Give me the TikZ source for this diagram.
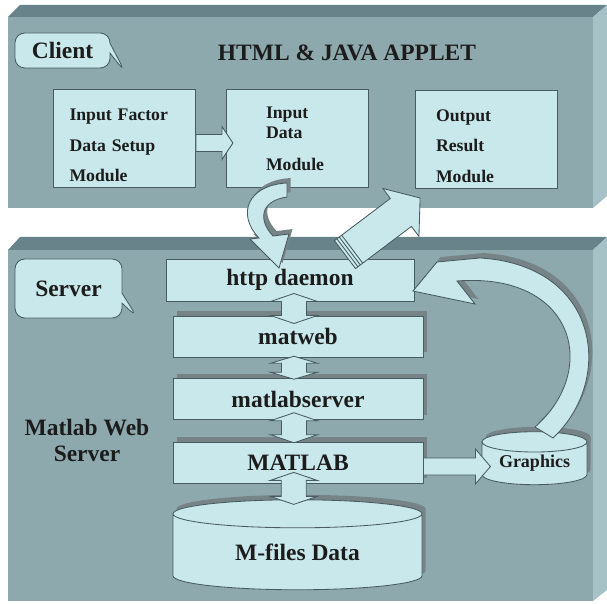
\documentclass[tikz,border=0pt]{standalone}
\usepackage{fontspec}
\setmainfont{Liberation Serif}
\usetikzlibrary{shapes.geometric, shapes.callouts, shadows, positioning, calc}

\definecolor{panelfront}{RGB}{141,169,174}
\definecolor{paneltop}{RGB}{104,132,138}
\definecolor{panelside}{RGB}{166,194,198}
\definecolor{boxfill}{RGB}{201,232,236}
\definecolor{boxline}{RGB}{72,92,96}
\definecolor{shade}{RGB}{118,132,136}
\definecolor{inkdark}{RGB}{28,28,28}

\newcommand{\pxu}{0.025cm}
\newcommand{\bigfont}{\bfseries\fontsize{16.7}{18.5}\selectfont}
\newcommand{\modfont}{\bfseries\fontsize{12.6}{21.7}\selectfont}
\newcommand{\lowerby}{\rule{0pt}{18.5pt}}

% block arrow: start, angle, length, shaft half, head half, head length
\newcommand{\onearrow}[6]{%
  \begin{scope}[shift={#1}, rotate=#2]
    \path[blockarrow] (0,-#4) -- ({#3-#6},-#4) -- ({#3-#6},-#5) -- (#3,0) -- ({#3-#6},#5) -- ({#3-#6},#4) -- (0,#4) -- cycle;
  \end{scope}}
% upright double block arrow: centre, length, shaft half, head half, head length
\newcommand{\twoarrow}[5]{%
  \begin{scope}[shift={#1}]
    \path[blockarrow] (-#3,{-#2/2+#5}) -- (-#4,{-#2/2+#5}) -- (0,{-#2/2}) -- (#4,{-#2/2+#5}) -- (#3,{-#2/2+#5})
      -- (#3,{#2/2-#5}) -- (#4,{#2/2-#5}) -- (0,{#2/2}) -- (-#4,{#2/2-#5}) -- (-#3,{#2/2-#5}) -- cycle;
  \end{scope}}

\tikzset{
  modbox/.style={draw=boxline, fill=boxfill, line width=0.6pt, minimum width=142*\pxu, minimum height=98*\pxu, inner sep=0pt, align=left, font=\modfont, text=inkdark},
  layerbox/.style={draw=boxline, fill=boxfill, line width=0.6pt, minimum width=250*\pxu, minimum height=41*\pxu, inner sep=0pt, font=\bigfont, text=inkdark},
  boxshadow/.style={drop shadow={shadow xshift=2.5pt, shadow yshift=3.5pt, fill=shade, opacity=1}},
  tag/.style={rectangle callout, rounded corners=7pt, draw=boxline, fill=boxfill, line width=0.6pt, font=\bigfont, text=inkdark, inner sep=0pt},
  blockarrow/.style={draw=boxline, fill=boxfill, line width=0.6pt},
  store/.style={cylinder, shape border rotate=90, draw=boxline, fill=boxfill, line width=0.6pt, text=inkdark, inner sep=0pt}
}

\begin{document}
\begin{tikzpicture}[x=\pxu, y=-\pxu]
  \useasboundingbox (0,0) rectangle (607,604);
  \fill[white] (0,0) rectangle (607,604);

  % client panel
  \fill[paneltop] (8,17) -- (20,5) -- (607,5) -- (593,17) -- cycle;
  \fill[panelside] (593,17) -- (607,5) -- (607,196) -- (593,208) -- cycle;
  \fill[panelfront] (8,17) rectangle (593,208);

  % server panel
  \fill[paneltop] (8,250) -- (20,237) -- (607,237) -- (593,250) -- cycle;
  \fill[panelside] (593,250) -- (607,237) -- (607,590) -- (593,601) -- cycle;
  \fill[panelfront] (8,250) rectangle (593,601);

  % client side
  \node[tag, minimum width=95*\pxu, minimum height=35*\pxu, callout absolute pointer={(125,72)}] (client) at (62.5,50.5) {Client};
  \node[font=\bigfont, text=inkdark] (applet) at (347,53) {HTML \& JAVA APPLET};

  \node[modbox, text width=110*\pxu] (factor) at (124.5,138.5) {\lowerby Input Factor\\Data Setup\\Module};
  \node[modbox, text width=62*\pxu] (input) at (297,138.5) {Input\\[-7.5pt]Data\\[1.1pt]Module};
  \node[modbox, text width=100*\pxu] (output) at (486,139) {\lowerby Output\\Result\\Module};

  \onearrow{($(factor.east)+(0,4.5)$)}{0}{37}{8.5}{16.5}{11}

  % server side
  \node[tag, minimum width=107*\pxu, minimum height=59*\pxu, callout absolute pointer={(137,317)}] (server) at (68.5,288.5) {Server};
  \node[font=\bigfont, align=center, text=inkdark] (mws) at (87,440) {Matlab Web\\Server};

  \node[layerbox, minimum width=248*\pxu, minimum height=42*\pxu] (daemon) at (290,280) {http daemon};
  \node[layerbox, boxshadow] (matweb) at (298,336.5) {matweb};
  \node[layerbox, boxshadow] (mlserver) at (298,399) {matlabserver};
  \node[layerbox, boxshadow] (matlab) at (298,462.5) {MATLAB};

  \node[store, boxshadow, minimum width=249*\pxu, minimum height=90*\pxu, aspect=0.225, font=\bigfont] (mfiles) at (297.5,552) {M-files Data};
  \node[store, boxshadow, minimum width=105*\pxu, minimum height=53*\pxu, aspect=0.286, font=\bfseries\fontsize{12.8}{15}\selectfont] (graphics) at (534.5,463.5) {Graphics};

  \twoarrow{($(daemon.south)!0.5!(matweb.north)$)}{30}{12.5}{23.5}{8}
  \twoarrow{($(matweb.south)!0.5!(mlserver.north)+(-4,0)$)}{23}{12.5}{23.5}{7}
  \twoarrow{($(mlserver.south)!0.5!(matlab.north)+(-4,-3)$)}{30}{12.5}{23.5}{8}
  \twoarrow{($(matlab.south)!0.5!(mfiles.north)+(-4,-3)$)}{32}{12.5}{23.5}{8}

  \onearrow{($(matlab.east)+(0,4)$)}{0}{67}{8.5}{17.5}{15}

  % curved arrow: request down to the daemon
  \path[blockarrow, boxshadow] (287,183) .. controls (248,185) and (236,214) .. (259,238) -- (250,239) -- (279,268) -- (289,234) -- (273,236) .. controls (258,220) and (260,201) .. (287,197) -- cycle;

  % result back up to the client
  \onearrow{($(daemon.north)+(55,-4)$)}{37}{94}{17.5}{30}{24}
  \begin{scope}[shift={($(daemon.north)+(55,-4)$)}, rotate=37]
    \foreach \d in {3,6,9}
      \draw[boxline, line width=0.6pt] (\d,-17.5) -- (\d,17.5);
  \end{scope}

  % graphics handed back to the daemon
  \path[blockarrow, boxshadow] (553,438) .. controls (615,380) and (600,265) .. (480,258) -- (437,262) -- (413,291) -- (475,304) -- (457,281) .. controls (575,272) and (600,370) .. (535,427) -- cycle;
\end{tikzpicture}
\end{document}
